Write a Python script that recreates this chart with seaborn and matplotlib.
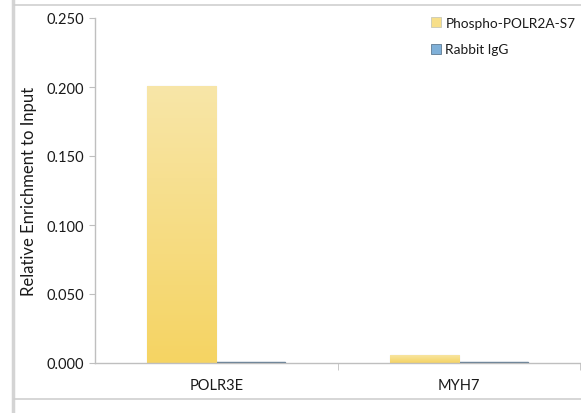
import matplotlib
matplotlib.use("Agg")
import matplotlib.pyplot as plt
import seaborn as sns
import numpy as np
import pandas as pd
from matplotlib.lines import Line2D
from matplotlib.patches import Patch
from matplotlib.colors import LinearSegmentedColormap

genes = ["POLR3E", "MYH7"]
antibodies = ["Phospho-POLR2A-S7", "Rabbit IgG"]
phospho_values = [0.201, 0.006]
igg_values = [0.001, 0.001]

df = pd.DataFrame({
    "gene": genes * 2,
    "antibody": [antibodies[0]] * len(genes) + [antibodies[1]] * len(genes),
    "value": phospho_values + igg_values,
})

sns.set_style("white")
plt.rcParams["font.family"] = ["Lato", "DejaVu Sans"]
plt.rcParams["text.color"] = "#1a1a1a"
plt.rcParams["axes.labelcolor"] = "#1a1a1a"
plt.rcParams["xtick.labelcolor"] = "#1a1a1a"
plt.rcParams["ytick.labelcolor"] = "#1a1a1a"

yellow = "#f6dc80"
blue = "#7fb0d8"

fig = plt.figure(figsize=(5.81, 4.14), dpi=100)
ax = fig.add_axes([95 / 581, 1 - 364 / 414, 485 / 581, 345 / 414])
ax.patch.set_alpha(0)

sns.barplot(data=df, x="gene", y="value", hue="antibody", order=genes,
            hue_order=antibodies, palette=[yellow, blue], width=0.57,
            ax=ax, legend=False, saturation=1)

# gradient fill on the yellow bars
grad = LinearSegmentedColormap.from_list("yel", ["#f5d463", "#f8e6a8"])
for bar in ax.containers[0]:
    bar.set_edgecolor("#c8c8b8")
    bar.set_linewidth(0.8)
    x0, y0 = bar.get_x(), bar.get_y()
    w, h = bar.get_width(), bar.get_height()
    img = ax.imshow(np.linspace(0, 1, 100).reshape(-1, 1), cmap=grad,
                    origin="lower", extent=[x0, x0 + w, y0, y0 + h],
                    aspect="auto", zorder=bar.get_zorder() + 0.1)
    img.set_clip_path(bar)
for bar in ax.containers[1]:
    bar.set_edgecolor("#5f7a92")
    bar.set_linewidth(1.0)

ax.set_xlim(-0.5, 1.5)
ax.set_ylim(0, 0.25)
ax.set_yticks(np.arange(0, 0.251, 0.05))
ax.set_yticklabels([f"{v:.3f}" for v in np.arange(0, 0.251, 0.05)])
ax.set_xticks([0, 1])
ax.set_xticklabels(genes)
ax.set_xticks([0.5, 1.5], minor=True)
ax.tick_params(axis="x", which="major", length=0, pad=11, labelsize=10.5)
ax.tick_params(axis="x", which="minor", length=5, color="#bfbfbf",
               direction="out", bottom=True)
ax.tick_params(axis="y", length=4, color="#bfbfbf", direction="out",
               left=True, labelsize=10.5, pad=4)
for s in ["top", "right"]:
    ax.spines[s].set_visible(False)
for s in ["left", "bottom"]:
    ax.spines[s].set_color("#bfbfbf")
    ax.spines[s].set_linewidth(1.0)
ax.set_xlabel("")
ax.set_ylabel("Relative Enrichment to Input", fontsize=12, labelpad=7)

handles = [Patch(facecolor="#f7df8a", edgecolor="#c8c8b8", linewidth=0.6),
           Patch(facecolor=blue, edgecolor="#5f7a92", linewidth=0.6)]
fig.legend(handles, antibodies, loc="upper left",
           bbox_to_anchor=(431 / 581, 1 - 18 / 414), frameon=False,
           handlelength=0.75, handleheight=0.75,
           handletextpad=0.3, labelspacing=1.05, borderaxespad=0,
           borderpad=0, prop={"size": 9.8})

# outer frame of the picture
fig.add_artist(Line2D([13 / 581, 13 / 581], [0, 1], color="#d4d4d4",
                      linewidth=2.5, transform=fig.transFigure))
fig.add_artist(Line2D([14 / 581, 1], [1 - 5.5 / 414, 1 - 5.5 / 414],
                      color="#cfcfcf", linewidth=1.2, transform=fig.transFigure))
fig.add_artist(Line2D([14 / 581, 1], [1 - 400 / 414, 1 - 400 / 414],
                      color="#cfcfcf", linewidth=1.2, transform=fig.transFigure))

fig.savefig("out.png", dpi=100, facecolor="white")
